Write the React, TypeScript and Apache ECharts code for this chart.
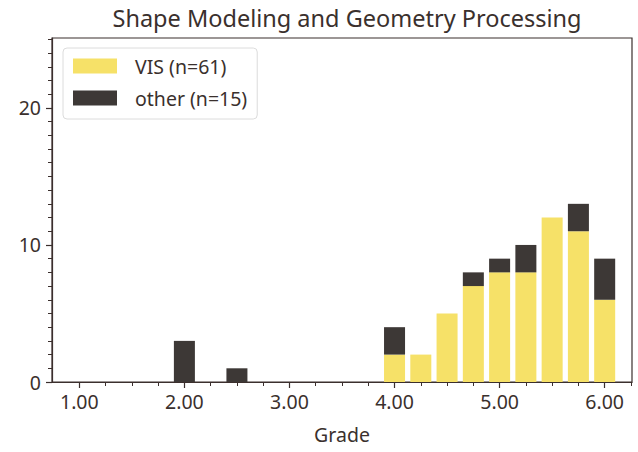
import React, { useEffect, useRef } from "react";
import * as echarts from "echarts";

const grades = [2.0, 2.5, 4.0, 4.25, 4.5, 4.75, 5.0, 5.25, 5.5, 5.75, 6.0];
const visCounts = [0, 0, 2, 2, 5, 7, 8, 8, 12, 11, 6];
const otherCounts = [3, 1, 2, 0, 0, 1, 1, 2, 0, 2, 3];
const xMajorTicks = [1, 2, 3, 4, 5, 6];
const xMinorTicks = [1.25, 1.5, 1.75, 2.25, 2.5, 2.75, 3.25, 3.5, 3.75, 4.25, 4.5, 4.75, 5.25, 5.5, 5.75, 6.25];
const yMajorTicks = [0, 10, 20];
const yMinorTicks = [1, 2, 3, 4, 5, 6, 7, 8, 9, 11, 12, 13, 14, 15, 16, 17, 18, 19, 21, 22, 23, 24, 25];

const TEXT = "#3a302d";
const AXIS = "#3b2f2d";
const FONT = "Noto Sans";
const VIS_COLOR = "#f6e168";
const OTHER_COLOR = "#3d3836";

export default function App() {
  const ref = useRef<HTMLDivElement>(null);
  useEffect(() => {
    if (!ref.current) return;
    const chart = echarts.init(ref.current, undefined, { renderer: "svg" });
    const xMin = 0.74, xMax = 6.26, yMin = 0, yMax = 25.1;
    const barW = 0.2; // bar width in grade units
    chart.setOption({
      animation: false,
      backgroundColor: "#ffffff",
      title: {
        text: "Shape Modeling and Geometry Processing",
        left: 342,
        textAlign: "center",
        top: 1,
        textStyle: { fontFamily: FONT, fontSize: 23.5, fontWeight: "normal", color: TEXT },
      },
      legend: {
        orient: "vertical",
        left: 63,
        top: 48,
        padding: [8, 10, 11, 10],
        itemGap: 12,
        itemWidth: 44,
        itemHeight: 15,
        borderColor: "#dcdcdc",
        borderWidth: 1,
        borderRadius: 4,
        backgroundColor: "#ffffff",
        icon: "rect",
        textStyle: { fontFamily: FONT, fontSize: 19.5, color: TEXT, padding: [0, 0, 0, 13] },
        data: ["VIS (n=61)", "other (n=15)"],
      },
      grid: {
        left: 52,
        right: 6,
        top: 38,
        bottom: 70,
        show: true,
        borderColor: AXIS,
        borderWidth: 1.2,
        backgroundColor: "transparent",
      },
      xAxis: [
        {
          type: "value",
          min: xMin,
          max: xMax,
          name: "Grade",
          nameLocation: "middle",
          nameGap: 42,
          nameTextStyle: { fontFamily: FONT, fontSize: 19.5, color: TEXT },
          axisLine: { show: true, lineStyle: { color: AXIS, width: 1.2 } },
          axisTick: { show: true, customValues: xMajorTicks, length: 6, lineStyle: { color: AXIS, width: 1.2 } },
          axisLabel: {
            customValues: xMajorTicks,
            formatter: (v: number) => v.toFixed(2),
            fontFamily: FONT,
            fontSize: 19.5,
            color: TEXT,
            margin: 9,
          },
          splitLine: { show: false },
        },
        {
          type: "value",
          min: xMin,
          max: xMax,
          position: "bottom",
          axisLine: { show: false },
          axisTick: { show: true, customValues: xMinorTicks, length: 4, lineStyle: { color: AXIS, width: 1 } },
          axisLabel: { show: false },
          splitLine: { show: false },
        },
      ],
      yAxis: [
        {
          type: "value",
          min: yMin,
          max: yMax,
          axisLine: { show: true, lineStyle: { color: AXIS, width: 1.2 } },
          axisTick: { show: true, customValues: yMajorTicks, length: 6, lineStyle: { color: AXIS, width: 1.2 } },
          axisLabel: { customValues: yMajorTicks, fontFamily: FONT, fontSize: 19.5, color: TEXT, margin: 11 },
          splitLine: { show: false },
        },
        {
          type: "value",
          min: yMin,
          max: yMax,
          position: "left",
          axisLine: { show: false },
          axisTick: { show: true, customValues: yMinorTicks, length: 4, lineStyle: { color: AXIS, width: 1 } },
          axisLabel: { show: false },
          splitLine: { show: false },
        },
      ],
      series: [
        {
          name: "VIS (n=61)",
          type: "custom",
          itemStyle: { color: VIS_COLOR },
          encode: { x: 0, y: 2 },
          data: grades.map((g, i) => [g, 0, visCounts[i]]),
          renderItem: (params: any, api: any) => {
            const x = api.value(0), lo = api.value(1), hi = api.value(1) + api.value(2);
            if (api.value(2) <= 0) return null;
            const p0 = api.coord([x - barW / 2, hi]);
            const p1 = api.coord([x + barW / 2, lo]);
            return {
              type: "rect",
              shape: { x: p0[0], y: p0[1], width: p1[0] - p0[0], height: p1[1] - p0[1] },
              style: { fill: VIS_COLOR },
            };
          },
        },
        {
          name: "other (n=15)",
          type: "custom",
          itemStyle: { color: OTHER_COLOR },
          encode: { x: 0, y: 2 },
          data: grades.map((g, i) => [g, visCounts[i], otherCounts[i]]),
          renderItem: (params: any, api: any) => {
            const x = api.value(0), lo = api.value(1), hi = api.value(1) + api.value(2);
            if (api.value(2) <= 0) return null;
            const p0 = api.coord([x - barW / 2, hi]);
            const p1 = api.coord([x + barW / 2, lo]);
            return {
              type: "rect",
              shape: { x: p0[0], y: p0[1], width: p1[0] - p0[0], height: p1[1] - p0[1] },
              style: { fill: OTHER_COLOR },
            };
          },
        },
      ],
    });
    return () => chart.dispose();
  }, []);
  return (
    <div
      ref={ref}
      style={{ position: "fixed", left: 0, top: 0, width: 638, height: 452, background: "#fff" }}
    />
  );
}
